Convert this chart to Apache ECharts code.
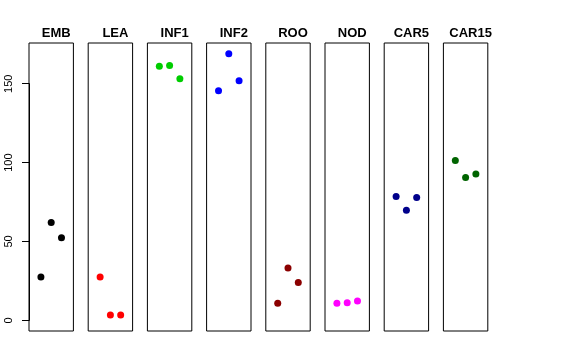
<!DOCTYPE html>
<html>
<head>
<meta charset="utf-8">
<script src="https://cdn.jsdelivr.net/npm/echarts@6/dist/echarts.min.js"></script>
<style>html,body{margin:0;padding:0;background:#fff}#c{width:576px;height:360px}</style>
</head>
<body>
<div id="c"></div>
<script>
var categories = ['EMB', 'LEA', 'INF1', 'INF2', 'ROO', 'NOD', 'CAR5', 'CAR15'];
var valuesEMB = [27.4, 62.0, 52.3];
var valuesLEA = [27.4, 3.4, 3.4];
var valuesINF1 = [161.1, 161.6, 153.2];
var valuesINF2 = [145.6, 169.0, 151.9];
var valuesROO = [10.8, 33.1, 24.0];
var valuesNOD = [10.8, 11.1, 12.2];
var valuesCAR5 = [78.5, 69.8, 77.8];
var valuesCAR15 = [101.3, 90.5, 92.8];
var seriesValues = [valuesEMB, valuesLEA, valuesINF1, valuesINF2, valuesROO, valuesNOD, valuesCAR5, valuesCAR15];
var colors = ['#000000', '#FF0000', '#00CD00', '#0000FF', '#8B0000', '#FF00FF', '#00008B', '#006400'];
var yTickMin = 0, yTickMax = 150, yTickStep = 50;

(function () {
  var chart = echarts.init(document.getElementById('c'), null, {renderer: 'canvas'});
  var grids = [], xAxes = [], yAxes = [], series = [], titles = [];
  var pitch = 59.2, left0 = 29, pw = 44.4, ptop = 43, ph = 288;
  var yMin = -6.76, yMax = 175.8;
  for (var i = 0; i < categories.length; i++) {
    var l = left0 + i * pitch;
    grids.push({left: l, top: ptop, width: pw, height: ph, show: true, borderColor: '#000', borderWidth: 1});
    xAxes.push({type: 'value', gridIndex: i, min: -0.16, max: 4.16, show: false});
    yAxes.push({type: 'value', gridIndex: i, min: yMin, max: yMax, show: false});
    series.push({
      type: 'scatter', xAxisIndex: i, yAxisIndex: i,
      symbol: 'circle', symbolSize: 7,
      itemStyle: {color: colors[i], opacity: 1},
      data: seriesValues[i].map(function (v, j) { return [j + 1, v]; }),
      silent: true
    });
    titles.push({
      text: categories[i], left: l + pw / 2, top: 22, textAlign: 'center',
      textStyle: {fontSize: 13, fontWeight: 'bold', color: '#000', fontFamily: 'Liberation Sans'}
    });
  }
  var pxPerUnit = ph / (yMax - yMin);
  var tTop = ptop + (yMax - yTickMax) * pxPerUnit;
  var tHeight = (yTickMax - yTickMin) * pxPerUnit;
  grids.push({left: left0, top: tTop, width: pw, height: tHeight, show: false});
  xAxes.push({type: 'value', gridIndex: 8, min: 0, max: 1, show: false});
  yAxes.push({
    type: 'value', gridIndex: 8, min: yTickMin, max: yTickMax, interval: yTickStep,
    axisLine: {show: true, lineStyle: {color: '#000', width: 1}},
    splitLine: {show: false},
    axisTick: {show: true, length: 7, lineStyle: {color: '#000'}},
    axisLabel: {rotate: 90, margin: 15, fontSize: 11, color: '#000', fontFamily: 'Liberation Sans'}
  });
  chart.setOption({
    animation: false,
    backgroundColor: '#fff',
    title: titles,
    grid: grids,
    xAxis: xAxes,
    yAxis: yAxes,
    series: series
  });
})();
</script>
</body>
</html>
